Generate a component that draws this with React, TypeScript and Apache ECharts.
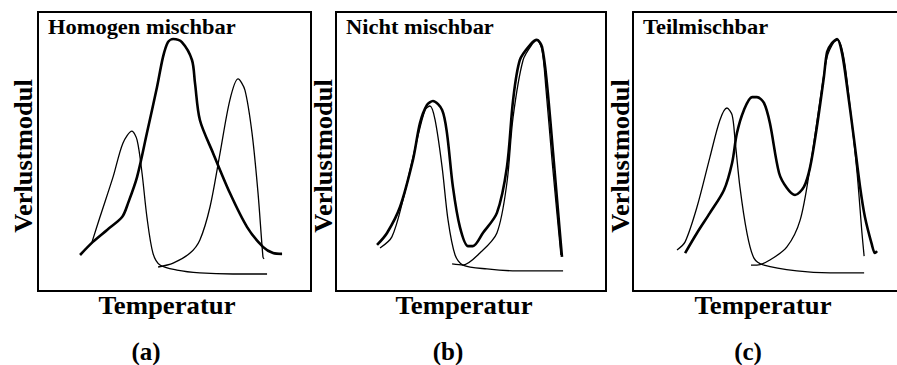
import React, { useEffect, useRef } from "react";
import * as echarts from "echarts";

// Panel (a) Homogen mischbar — x: temperature (0–100), y: loss modulus (0–100)
const aThinLeft: [number, number][] = [
  [19.8, 17.6], [22.7, 26.5], [27.5, 40.9], [31.1, 53.0], [34.4, 57.3], [36.3, 54.1],
  [38.1, 42.3], [39.9, 26.5], [42.1, 13.6], [44.7, 9.3], [50.9, 7.5], [59.3, 6.5],
  [71.4, 6.1], [83.9, 6.1],
];
const aBold: [number, number][] = [
  [15.4, 12.9], [20.1, 17.6], [25.3, 21.9], [30.8, 26.5], [33.0, 31.5], [36.3, 40.9],
  [39.9, 56.6], [43.6, 73.1], [45.8, 83.9], [47.6, 89.2], [49.5, 90.3], [52.7, 89.2],
  [56.4, 82.8], [57.5, 74.6], [59.3, 61.3], [64.1, 49.5], [70.3, 35.1], [76.6, 22.9],
  [82.4, 15.8], [86.1, 13.6], [89.4, 13.3],
];
const aThinRight: [number, number][] = [
  [44.0, 8.6], [49.5, 10.0], [55.7, 13.6], [59.3, 18.3], [63.0, 30.1], [66.7, 49.5],
  [70.3, 68.5], [73.3, 76.0], [75.8, 72.0], [78.4, 56.6], [80.6, 35.1], [82.4, 12.2],
  [82.8, 11.5],
];

// Panel (b) Nicht mischbar
const bBold: [number, number][] = [
  [15.2, 16.5], [18.9, 20.8], [23.7, 30.1], [28.5, 47.0], [31.1, 60.2], [33.7, 66.7],
  [35.9, 68.1], [39.3, 64.9], [41.1, 56.6], [43.3, 37.3], [45.9, 22.9], [48.9, 16.1],
  [50.7, 16.1], [54.4, 20.8], [59.6, 28.0], [63.3, 44.4], [65.6, 68.5], [68.1, 82.8],
  [71.9, 88.2], [74.4, 90.0], [76.3, 87.5], [78.1, 74.6], [80.4, 49.5], [82.2, 29.0],
  [83.7, 12.2],
];
const bThinLeft: [number, number][] = [
  [16.3, 15.4], [20.7, 19.4], [24.8, 32.6], [30.0, 54.1], [33.0, 64.9], [34.8, 66.3],
  [36.7, 61.3], [39.3, 44.4], [41.5, 25.4], [44.1, 12.9], [47.0, 9.3], [55.9, 7.9],
  [67.0, 7.2], [84.1, 7.2],
];
const bThinRight: [number, number][] = [
  [43.0, 9.7], [47.0, 9.3], [53.3, 13.6], [59.6, 20.8], [63.3, 38.7], [65.6, 62.4],
  [69.3, 82.8], [73.0, 88.9], [74.4, 90.0], [76.3, 86.4], [77.8, 72.0], [80.0, 47.0],
  [81.9, 27.2], [83.3, 12.9],
];

// Panel (c) Teilmischbar
const cThinLeft: [number, number][] = [
  [16.3, 14.7], [19.3, 17.6], [23.7, 30.1], [28.5, 48.0], [32.2, 61.3], [34.8, 65.6],
  [36.7, 63.1], [37.8, 54.1], [39.6, 37.3], [42.2, 20.8], [44.8, 11.8], [48.5, 9.3],
  [60.7, 7.2], [73.0, 6.5], [85.6, 6.5],
];
const cBold: [number, number][] = [
  [19.3, 13.6], [23.7, 20.8], [28.5, 28.0], [33.7, 36.2], [36.7, 45.9], [38.5, 56.6],
  [41.1, 64.9], [44.1, 69.5], [45.9, 69.5], [48.5, 67.4], [50.7, 60.2], [54.1, 42.3],
  [57.0, 36.9], [60.0, 34.4], [63.3, 37.3], [65.6, 44.4], [68.1, 58.8], [70.7, 76.7],
  [71.9, 85.7], [73.7, 88.9], [75.6, 90.3], [77.4, 85.3], [79.3, 73.1], [81.9, 54.1],
  [84.1, 37.3], [85.9, 26.5], [88.5, 16.5], [89.6, 13.6], [90.4, 14.3],
];
const cThinRight: [number, number][] = [
  [43.7, 9.3], [45.9, 9.3], [50.7, 11.1], [57.0, 15.8], [61.9, 25.4], [65.6, 44.4],
  [69.3, 68.5], [71.9, 83.9], [74.4, 89.2], [75.9, 90.0], [78.1, 83.5], [80.4, 65.9],
  [83.0, 42.3], [84.8, 20.8], [85.6, 12.5],
];

const panelTitles = ["Homogen mischbar", "Nicht mischbar", "Teilmischbar"];
const panelLetters = ["(a)", "(b)", "(c)"];
const xLabel = "Temperatur";
const yLabel = "Verlustmodul";

const FONT = "'Liberation Serif', 'Times New Roman', serif";

export default function App() {
  const ref = useRef<HTMLDivElement>(null);
  useEffect(() => {
    if (!ref.current) return;
    const chart = echarts.init(ref.current, null, { renderer: "svg" });
    const grids = [
      { left: 38, top: 12, width: 273, height: 279 },
      { left: 336, top: 12, width: 270, height: 279 },
      { left: 633, top: 12, width: 270, height: 279 },
    ];
    const panels = [
      [aThinLeft, aBold, aThinRight],
      [bThinLeft, bBold, bThinRight],
      [cThinLeft, cBold, cThinRight],
    ];
    const series: any[] = [];
    panels.forEach((p, i) => {
      p.forEach((d, j) => {
        series.push({
          type: "line",
          xAxisIndex: i,
          yAxisIndex: i,
          data: d,
          showSymbol: false,
          smooth: 0.3,
          lineStyle: { color: "#000", width: j === 1 ? 2.6 : 1.3 },
          z: j === 1 ? 3 : 2,
        });
      });
    });
    const graphic: any[] = [];
    const yCenters = [24, 324, 621];
    const xCenters = [167, 464, 763];
    const letterCenters = [146, 448, 748];
    grids.forEach((g, i) => {
      graphic.push({
        type: "text",
        x: g.left + 10,
        y: 17,
        scaleX: 1.07,
        style: { text: panelTitles[i], font: `bold 21px ${FONT}`, fill: "#000", verticalAlign: "top" },
      });
      graphic.push({
        type: "text",
        x: xCenters[i],
        y: 306,
        scaleX: 1.07,
        style: {
          text: xLabel,
          font: `bold 25px ${FONT}`,
          fill: "#000",
          align: "center",
          verticalAlign: "middle",
        },
      });
      graphic.push({
        type: "text",
        x: letterCenters[i],
        y: 351,
        style: {
          text: panelLetters[i],
          font: `bold 25px ${FONT}`,
          fill: "#000",
          align: "center",
          verticalAlign: "middle",
        },
      });
      graphic.push({
        type: "text",
        x: yCenters[i],
        y: 156,
        rotation: Math.PI / 2,
        scaleX: 1.06,
        style: {
          text: yLabel,
          font: `bold 25px ${FONT}`,
          fill: "#000",
          align: "center",
          verticalAlign: "middle",
        },
      });
    });
    const frameLine = { show: true, lineStyle: { color: "#000", width: 2 } };
    const hidden = {
      axisTick: { show: false },
      axisLabel: { show: false },
      splitLine: { show: false },
    };
    chart.setOption({
      animation: false,
      backgroundColor: "#fff",
      grid: grids.map((g, i) => ({
        ...g,
        show: i < 2,
        borderColor: "#000",
        borderWidth: 2,
        backgroundColor: "transparent",
        outerBoundsMode: "none",
        containLabel: false,
      })),
      xAxis: [
        ...grids.map((_, i) => ({
          type: "value",
          gridIndex: i,
          min: 0,
          max: 100,
          show: i === 2,
          position: "bottom",
          axisLine: frameLine,
          ...hidden,
        })),
        {
          type: "value",
          gridIndex: 2,
          min: 0,
          max: 100,
          show: true,
          position: "top",
          axisLine: frameLine,
          ...hidden,
        },
      ],
      yAxis: grids.map((_, i) => ({
        type: "value",
        gridIndex: i,
        min: 0,
        max: 100,
        show: i === 2,
        position: "left",
        axisLine: frameLine,
        ...hidden,
      })),
      series,
      graphic,
    });
    return () => chart.dispose();
  }, []);
  return (
    <div
      ref={ref}
      style={{ position: "fixed", left: 0, top: 0, width: 897, height: 365, background: "#fff" }}
    />
  );
}
